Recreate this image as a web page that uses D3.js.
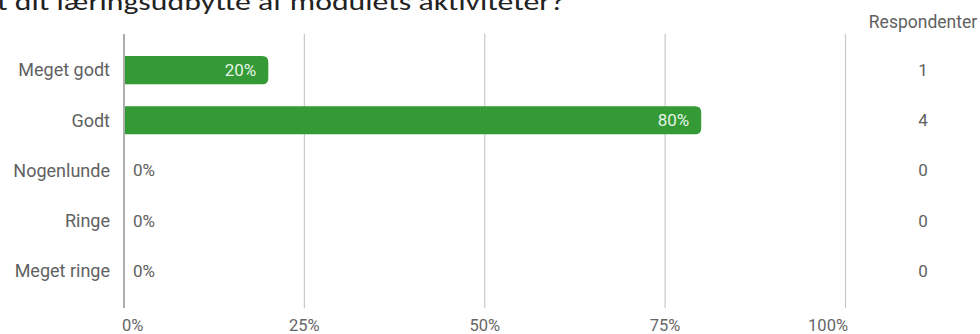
<!DOCTYPE html>
<html><head><meta charset="utf-8">
<script src="https://cdn.jsdelivr.net/npm/d3@7"></script>
<style>
body{margin:0;background:#fff;}
svg{display:block;}
</style></head>
<body>
<svg id="chart" width="980" height="334"></svg>
<script>
const titleText = "t dit læringsudbytte af modulets aktiviteter?";
const categories = ["Meget godt", "Godt", "Nogenlunde", "Ringe", "Meget ringe"];
const percents = [20, 80, 0, 0, 0];
const respondents = [1, 4, 0, 0, 0];
const xTicks = [0, 25, 50, 75, 100];
const respHeader = "Respondenter";

const svg = d3.select("#chart");
const font = "Roboto, 'Noto Sans', sans-serif";
const x = d3.scaleLinear().domain([0, 100]).range([124, 845.5]);
const y = d3.scaleBand().domain(categories).range([45, 296]).paddingInner(0.44).paddingOuter(0.22);

// title (cut off at top)
svg.append("text").attr("x", -3).attr("y", 10)
  .attr("font-family", "Carlito, 'Open Sans', 'Liberation Sans', sans-serif")
  .attr("font-size", 24).attr("fill", "#222")
  .attr("textLength", 568).attr("lengthAdjust", "spacingAndGlyphs")
  .text(titleText);

// gridlines
svg.append("g").selectAll("line").data(xTicks.filter(d => d > 0)).join("line")
  .attr("x1", d => x(d)).attr("x2", d => x(d))
  .attr("y1", 34).attr("y2", 308)
  .attr("stroke", "#c8c8c8").attr("stroke-width", 1.2);
svg.append("line").attr("x1", x(0)).attr("x2", x(0)).attr("y1", 34).attr("y2", 308)
  .attr("stroke", "#9a9a9a").attr("stroke-width", 1.6);

// x tick labels
svg.append("g").selectAll("text").data(xTicks).join("text")
  .attr("x", (d, i) => i === 0 ? x(d) - 2 : (i === xTicks.length - 1 ? x(d) + 2.5 : x(d)))
  .attr("y", 331)
  .attr("text-anchor", (d, i) => i === 0 ? "start" : (i === xTicks.length - 1 ? "end" : "middle"))
  .attr("font-family", font).attr("font-size", 16.5).attr("fill", "#666")
  .text(d => d + "%");

// category labels
svg.append("g").selectAll("text").data(categories).join("text")
  .attr("x", 110).attr("y", d => y(d) + y.bandwidth() / 2)
  .attr("dy", "0.35em").attr("text-anchor", "end")
  .attr("font-family", font).attr("font-size", 18).attr("fill", "#616161")
  .text(d => d);

// bars (square left, rounded right)
const r = 6;
const data = categories.map((c, i) => ({c, p: percents[i], n: respondents[i]}));
svg.append("g").selectAll("path").data(data.filter(d => d.p > 0)).join("path")
  .attr("fill", "#339a36")
  .attr("d", d => {
    const x0 = x(0) + 1, x1 = x(d.p), y0 = y(d.c), h = y.bandwidth();
    return `M${x0},${y0} H${x1 - r} Q${x1},${y0} ${x1},${y0 + r} V${y0 + h - r} Q${x1},${y0 + h} ${x1 - r},${y0 + h} H${x0} Z`;
  });

// value labels
svg.append("g").selectAll("text").data(data).join("text")
  .attr("x", d => d.p > 0 ? x(d.p) - 12 : x(0) + 9)
  .attr("y", d => y(d.c) + y.bandwidth() / 2)
  .attr("dy", "0.35em")
  .attr("text-anchor", d => d.p > 0 ? "end" : "start")
  .attr("font-family", font).attr("font-size", 17)
  .attr("fill", d => d.p > 0 ? "#e6f3e6" : "#616161")
  .text(d => d.p + "%");

// respondents column
svg.append("text").attr("x", 923).attr("y", 28).attr("text-anchor", "middle")
  .attr("font-family", font).attr("font-size", 17.5).attr("fill", "#616161")
  .text(respHeader);
svg.append("g").selectAll("text").data(data).join("text")
  .attr("x", 923).attr("y", d => y(d.c) + y.bandwidth() / 2).attr("dy", "0.35em")
  .attr("text-anchor", "middle")
  .attr("font-family", font).attr("font-size", 17).attr("fill", "#616161")
  .text(d => d.n);
</script>
</body></html>
